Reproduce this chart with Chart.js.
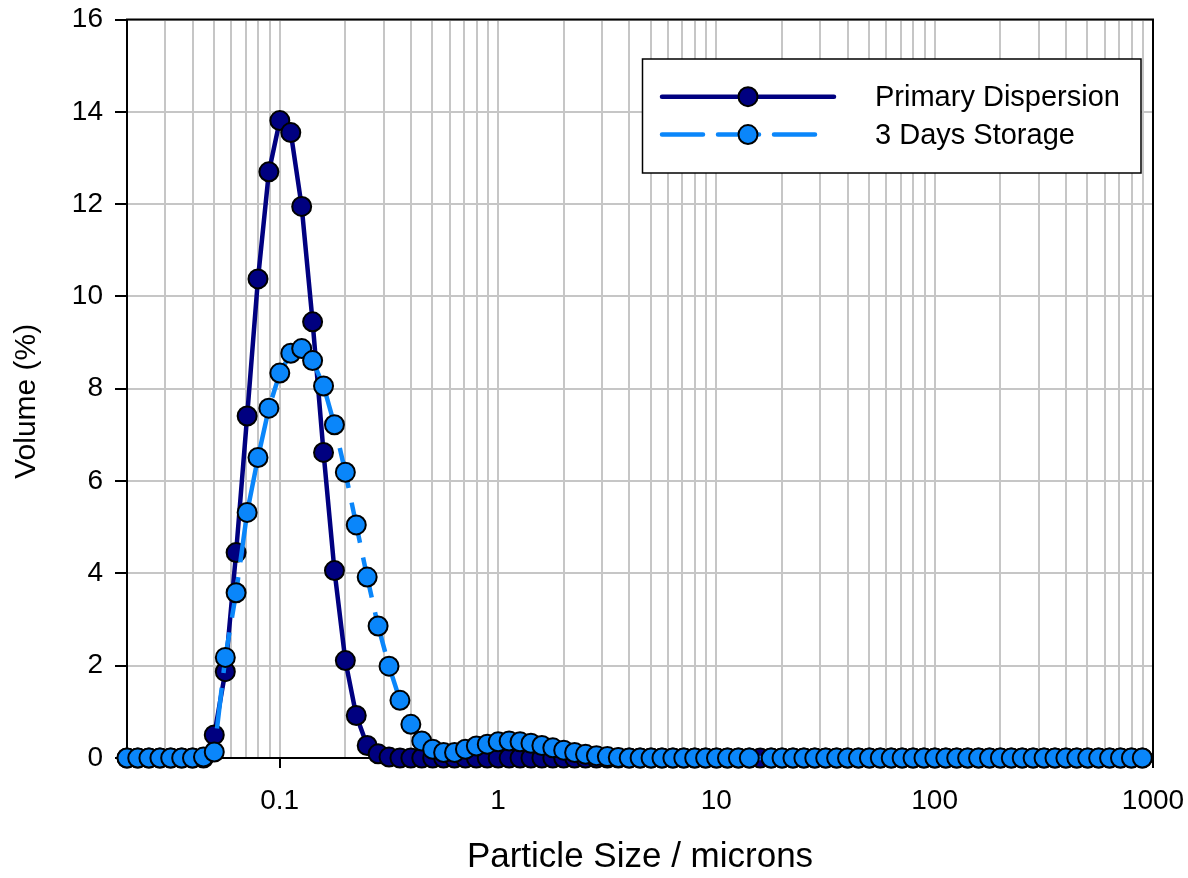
<!DOCTYPE html>
<html>
<head>
<meta charset="utf-8">
<script src="https://cdn.jsdelivr.net/npm/chart.js@4/dist/chart.umd.min.js"></script>
<style>
  html, body { margin: 0; padding: 0; background: #fff; }
  #wrap { width: 1188px; height: 878px; }
</style>
</head>
<body>
<div id="wrap"><canvas id="psd" width="1188" height="878"></canvas></div>
<script>
// particle size bins (microns)
const sizes = [
  0.02, 0.0224, 0.0252, 0.0283, 0.0317, 0.0356, 0.0399, 0.0448, 0.0502, 0.0564,
  0.0632, 0.071, 0.0796, 0.0893, 0.1002, 0.1125, 0.1262, 0.1416, 0.1589, 0.1783,
  0.2, 0.2244, 0.2518, 0.2825, 0.317, 0.3557, 0.3991, 0.4477, 0.5024, 0.5637,
  0.6325, 0.7096, 0.7962, 0.8934, 1.002, 1.125, 1.262, 1.416, 1.589, 1.783,
  2.0, 2.244, 2.518, 2.825, 3.17, 3.557, 3.991, 4.477, 5.024, 5.637,
  6.325, 7.096, 7.962, 8.934, 10.02, 11.25, 12.62, 14.16, 15.89, 17.83,
  20.0, 22.44, 25.18, 28.25, 31.7, 35.57, 39.91, 44.77, 50.24, 56.37,
  63.25, 70.96, 79.62, 89.34, 100.2, 112.5, 126.2, 141.6, 158.9, 178.3,
  200.0, 224.4, 251.8, 282.5, 317.0, 355.7, 399.1, 447.7, 502.4, 563.7,
  632.5, 709.6, 796.2, 893.4,
];

// volume % per bin
const primaryDispersion = [
  0, 0, 0, 0, 0, 0, 0, 0, 0.5, 1.87,
  4.45, 7.41, 10.38, 12.7, 13.81, 13.55, 11.95, 9.45, 6.62, 4.06,
  2.11, 0.92, 0.27, 0.09, 0.02, 0, 0, 0, 0, 0,
  0, 0, 0, 0, 0, 0, 0, 0, 0, 0,
  0, 0, 0, 0, 0, 0, 0, 0, 0, 0,
  0, 0, 0, 0, 0, 0, 0, 0, 0, 0,
  0, 0, 0, 0, 0, 0, 0, 0, 0, 0,
  0, 0, 0, 0, 0, 0, 0, 0, 0, 0,
  0, 0, 0, 0, 0, 0, 0, 0, 0, 0,
  0, 0, 0, 0,
];

const threeDaysStorage = [
  0, 0, 0, 0, 0, 0, 0, 0.02, 0.13, 2.18,
  3.58, 5.32, 6.51, 7.58, 8.34, 8.77, 8.87, 8.61, 8.06, 7.22,
  6.19, 5.05, 3.92, 2.86, 1.99, 1.25, 0.73, 0.37, 0.19, 0.12,
  0.12, 0.19, 0.26, 0.3, 0.35, 0.37, 0.35, 0.32, 0.27, 0.22,
  0.17, 0.12, 0.08, 0.05, 0.03, 0.01, 0, 0, 0, 0,
  0, 0, 0, 0, 0, 0, 0, 0, null, 0,
  0, 0, 0, 0, 0, 0, 0, 0, 0, 0,
  0, 0, 0, 0, 0, 0, 0, 0, 0, 0,
  0, 0, 0, 0, 0, 0, 0, 0, 0, 0,
  0, 0, 0, 0,
];

const majorTicks = [0.1, 1, 10, 100, 1000];
const seriesNames = ["Primary Dispersion", "3 Days Storage"];

const navy = "#000080";
const lightBlue = "#0a86fa";

Chart.defaults.font.family = "'Liberation Sans', Arial, sans-serif";
Chart.defaults.color = "#000";

function toPoints(values) {
  return sizes.map((s, i) => ({ x: s, y: values[i] }));
}

// decade gridlines 0.02 .. 1000
function logTicks() {
  const ticks = [];
  for (const d of [0.01, 0.1, 1, 10, 100]) {
    for (let m = 1; m <= 9; m++) {
      const v = m * d;
      if (v >= 0.02 && v <= 1000) ticks.push({ value: v });
    }
  }
  ticks.push({ value: 1000 });
  return ticks;
}

// fixed axis sizes, no extra room for overhanging labels
function fixSize(prop, size) {
  return (scale) => {
    scale[prop] = size;
    scale.paddingTop = 0;
    scale.paddingBottom = 0;
    scale.paddingLeft = 0;
    scale.paddingRight = 0;
  };
}

const framePlugin = {
  id: "frame",
  beforeDatasetsDraw(chart) {
    const { ctx, chartArea: a } = chart;
    ctx.save();
    ctx.strokeStyle = "#000";
    ctx.lineWidth = 2;
    ctx.strokeRect(a.left, a.top, a.right - a.left, a.bottom - a.top);
    ctx.restore();
  },
};

const boxLegend = {
  id: "boxLegend",
  afterDraw(chart) {
    const ctx = chart.ctx;
    const box = { x: 642.5, y: 59, w: 498.5, h: 114 };
    const rows = [96.7, 134.6];
    ctx.save();
    ctx.fillStyle = "#fff";
    ctx.fillRect(box.x, box.y, box.w, box.h);
    ctx.strokeStyle = "#000";
    ctx.lineWidth = 1.5;
    ctx.strokeRect(box.x, box.y, box.w, box.h);

    chart.data.datasets.forEach((ds, i) => {
      const y = rows[i];
      const dashed = ds.borderDash && ds.borderDash.length;
      ctx.strokeStyle = ds.borderColor;
      ctx.lineWidth = ds.borderWidth;
      ctx.lineCap = "round";
      ctx.setLineDash(dashed ? ds.borderDash : []);
      ctx.beginPath();
      ctx.moveTo(662, y);
      ctx.lineTo(dashed ? 815 : 834, y);
      ctx.stroke();
      ctx.setLineDash([]);

      ctx.beginPath();
      ctx.arc(748, y, ds.pointRadius, 0, Math.PI * 2);
      ctx.fillStyle = ds.pointBackgroundColor;
      ctx.fill();
      ctx.lineWidth = ds.pointBorderWidth;
      ctx.strokeStyle = ds.pointBorderColor;
      ctx.stroke();

      ctx.fillStyle = "#000";
      ctx.font = "29px 'Liberation Sans', Arial, sans-serif";
      ctx.textBaseline = "middle";
      ctx.textAlign = "left";
      ctx.fillText(ds.label, 875, y + 1);
    });
    ctx.restore();
  },
};

new Chart(document.getElementById("psd"), {
  type: "line",
  data: {
    datasets: [
      {
        label: seriesNames[0],
        data: toPoints(primaryDispersion),
        borderColor: navy,
        borderWidth: 4.5,
        pointRadius: 9.5,
        pointBackgroundColor: navy,
        pointBorderColor: "#000",
        pointBorderWidth: 2,
        tension: 0,
        clip: false,
        order: 2,
      },
      {
        label: seriesNames[1],
        data: toPoints(threeDaysStorage),
        borderColor: lightBlue,
        borderWidth: 4.5,
        borderDash: [41, 15],
        pointRadius: 9.5,
        pointBackgroundColor: lightBlue,
        pointBorderColor: "#000",
        pointBorderWidth: 2,
        tension: 0,
        spanGaps: true,
        clip: false,
        order: 1,
      },
    ],
  },
  options: {
    responsive: false,
    animation: false,
    devicePixelRatio: 1,
    layout: { padding: { top: 19.5, right: 35, left: 0, bottom: 0 } },
    plugins: {
      legend: { display: false },
      tooltip: { enabled: false },
    },
    scales: {
      x: {
        type: "logarithmic",
        min: 0.02,
        max: 1000,
        afterBuildTicks: (scale) => {
          scale.ticks = logTicks();
        },
        afterFit: fixSize("height", 120),
        ticks: {
          autoSkip: false,
          maxRotation: 0,
          padding: 16,
          font: { size: 28 },
          callback: (value) => (majorTicks.includes(value) ? String(value) : ""),
        },
        grid: {
          color: "#c6c6c6",
          lineWidth: 2,
          tickLength: 10,
          tickWidth: 2,
          tickColor: (ctx) =>
            ctx.tick && majorTicks.includes(ctx.tick.value) ? "#000" : "rgba(0,0,0,0)",
        },
        border: { display: true, color: "#000", width: 2 },
        title: {
          display: true,
          text: "Particle Size / microns",
          font: { size: 35 },
          padding: { top: 0, bottom: 0 },
        },
      },
      y: {
        min: 0,
        max: 16,
        afterFit: fixSize("width", 127),
        ticks: {
          stepSize: 2,
          padding: 12,
          font: { size: 28 },
        },
        grid: {
          color: "#c6c6c6",
          lineWidth: 2,
          tickLength: 12,
          tickWidth: 2,
          tickColor: "#000",
        },
        border: { display: true, color: "#000", width: 2 },
        title: {
          display: true,
          // trailing spaces nudge the rotated title a little lower
          text: "Volume (%)   ",
          font: { size: 30 },
          padding: { top: 9, bottom: 0 },
        },
      },
    },
  },
  plugins: [framePlugin, boxLegend],
});
</script>
</body>
</html>
